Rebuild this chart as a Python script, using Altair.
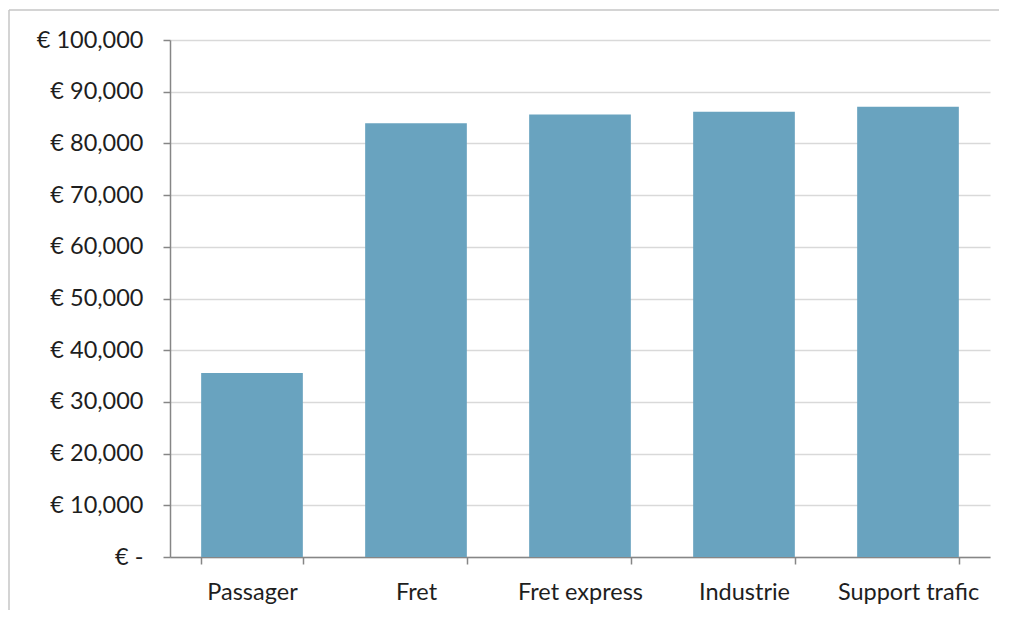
import altair as alt
import pandas as pd

categories = ["Passager", "Fret", "Fret express", "Industrie", "Support trafic"]
values = [35600, 83900, 85600, 86100, 87100]

df = pd.DataFrame({"cat": categories, "val": values})

bars = alt.Chart(df).mark_bar(color="#69a3bf").encode(
    x=alt.X("cat:N", sort=categories, title=None,
            scale=alt.Scale(paddingInner=0.38, paddingOuter=0.19),
            axis=alt.Axis(labelAngle=0, labelFontSize=23.5, labelColor="#1e1e1e",
                          labelFont="Lato", labelPadding=16, ticks=True, tickSize=7,
                          tickColor="#868686", domainColor="#868686",
                          domainWidth=1.5, tickWidth=1.5, tickBand="extent",
                          grid=False)),
    y=alt.Y("val:Q", title=None,
            scale=alt.Scale(domain=[0, 100000], nice=False),
            axis=alt.Axis(values=list(range(0, 100001, 10000)),
                          labelExpr="datum.value == 0 ? '€ -' : '€ ' + format(datum.value, ',')",
                          labelFontSize=23.5, labelColor="#1e1e1e", labelFont="Lato",
                          labelPadding=20, tickSize=7, tickColor="#868686",
                          domainColor="#868686", domainWidth=1.5, tickWidth=1.5,
                          gridColor="#d9d9d9", gridWidth=1.5)),
)

one = alt.Chart(df).transform_filter("datum.cat == 'Passager'")
top_edge = one.mark_rule(stroke="#c6c6c6", strokeWidth=1.5, clip=False).encode(
    x=alt.value(-161), x2=alt.value(829), y=alt.value(-30)
)
left_edge = one.mark_rule(stroke="#c6c6c6", strokeWidth=1.5, clip=False).encode(
    x=alt.value(-161), y=alt.value(-30), y2=alt.value(570)
)

chart = alt.layer(top_edge, left_edge, bars).properties(
    width=820, height=517,
    autosize=alt.AutoSizeParams(type="none"),
    padding={"left": 162, "top": 32, "right": 10, "bottom": 53},
).configure_view(stroke=None)

chart.save("out.html", embed_options={"renderer": "svg", "actions": False})
